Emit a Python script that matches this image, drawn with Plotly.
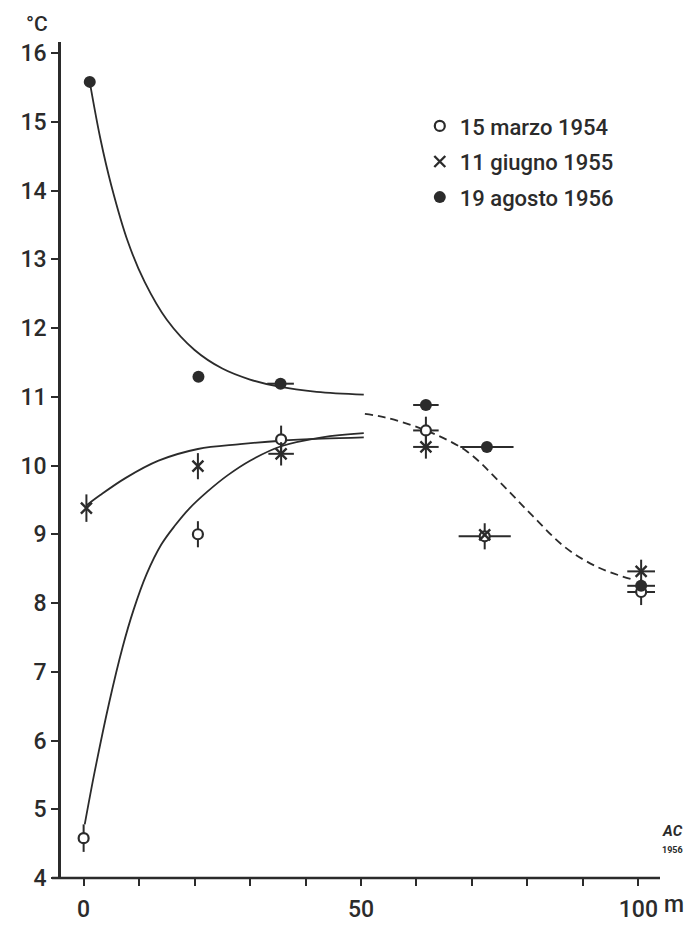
import plotly.graph_objects as go

INK = "#2b2b2b"
FONT = "Roboto"

# --- measured points ---
marzo_x = [0, 20.6, 35.6, 61.7, 72.3, 100.5]
marzo_y = [4.58, 9.0, 10.38, 10.51, 8.97, 8.16]
marzo_ey = [0.2, 0.19, 0.2, 0.2, 0.19, 0.19]
marzo_ex = [0, 0, 0, 2.3, 4.7, 2.5]

giugno_x = [0.5, 20.6, 35.6, 61.7, 72.3, 100.5]
giugno_y = [9.38, 9.99, 10.17, 10.27, 8.99, 8.46]
giugno_ey = [0.2, 0.19, 0.17, 0.17, 0.0, 0.17]
giugno_ex = [0, 0, 2.3, 2.3, 0, 2.5]

agosto_x = [1.1, 20.7, 35.5, 61.7, 72.7, 100.5]
agosto_y = [15.58, 11.29, 11.19, 10.88, 10.27, 8.25]
agosto_ex = [0, 0, 2.4, 2.3, 4.8, 2.5]

# --- hand-drawn curves ---
curve_agosto_x = [1.1, 3, 5, 8, 11, 15, 20, 25, 30, 35, 42, 50.5]
curve_agosto_y = [15.58, 14.76, 14.07, 13.25, 12.67, 12.12, 11.68, 11.41, 11.25, 11.15, 11.07, 11.03]

curve_marzo_x = [0.2, 2, 4.6, 7, 9, 11.35, 14, 16.5, 19, 22.3, 26, 30, 35.6, 43, 50.5]
curve_marzo_y = [4.78, 5.55, 6.55, 7.35, 7.9, 8.42, 8.85, 9.13, 9.37, 9.62, 9.86, 10.07, 10.28, 10.41, 10.47]

curve_giugno_x = [0.5, 3, 7.6, 13.5, 20.6, 28.2, 35.6, 43, 50.5]
curve_giugno_y = [9.42, 9.57, 9.82, 10.07, 10.24, 10.31, 10.36, 10.39, 10.41]

curve_dashed_x = [50.7, 54.3, 61.7, 69, 75, 80.9, 86.8, 92.7, 98.6]
curve_dashed_y = [10.75, 10.7, 10.51, 10.21, 9.76, 9.27, 8.81, 8.52, 8.35]

y_ticks = list(range(4, 17))
x_ticks = [0, 10, 20, 30, 40, 50, 60, 70, 80, 90, 100]
x_ticktext = ["0", "", "", "", "", "50", "", "", "", "", "100"]

legend_names = ["15 marzo 1954", "11 giugno 1955", "19 agosto 1956"]

fig = go.Figure()

for cx, cy, dash in [
    (curve_agosto_x, curve_agosto_y, "solid"),
    (curve_marzo_x, curve_marzo_y, "solid"),
    (curve_giugno_x, curve_giugno_y, "solid"),
    (curve_dashed_x, curve_dashed_y, "8px,5px"),
]:
    fig.add_trace(go.Scatter(
        x=cx, y=cy, mode="lines", showlegend=False, hoverinfo="skip",
        line=dict(color=INK, width=1.8, shape="spline", smoothing=1.0, dash=dash),
    ))

err_style = dict(type="data", symmetric=True, color=INK, thickness=2, width=0)

fig.add_trace(go.Scatter(
    x=marzo_x, y=marzo_y, mode="markers", name=legend_names[0],
    legendgroup="a", legendrank=1,
    marker=dict(symbol="circle", size=10, color="white", line=dict(color=INK, width=2.2)),
    error_y=dict(array=marzo_ey, **err_style),
    error_x=dict(array=marzo_ex, **err_style),
))
fig.add_trace(go.Scatter(
    x=giugno_x, y=giugno_y, mode="markers", name=legend_names[1],
    legendgroup="b", legendrank=2,
    marker=dict(symbol="x-thin", size=11, color=INK, line=dict(color=INK, width=2.4)),
    error_y=dict(array=giugno_ey, **err_style),
    error_x=dict(array=giugno_ex, **err_style),
))
fig.add_trace(go.Scatter(
    x=agosto_x, y=agosto_y, mode="markers", name=legend_names[2],
    legendgroup="c", legendrank=3,
    marker=dict(symbol="circle", size=12, color=INK),
    error_x=dict(array=agosto_ex, **err_style),
))

tick_font = dict(family=FONT, size=23, color=INK, weight=500)

fig.update_layout(
    width=677, height=927,
    margin=dict(l=43, r=25, t=34, b=32),
    paper_bgcolor="white", plot_bgcolor="white",
    font=dict(family=FONT, size=22, color=INK),
    showlegend=True,
    legend=dict(
        x=0.599, y=0.9245, xanchor="left", yanchor="top",
        traceorder="grouped", tracegroupgap=4,
        bgcolor="rgba(0,0,0,0)", font=dict(family=FONT, size=22, color=INK, weight=500),
        itemsizing="trace",
    ),
    xaxis=dict(
        range=[-4.08, 103.9], tickvals=x_ticks, ticktext=x_ticktext,
        ticks="outside", ticklen=7, tickwidth=2, tickcolor=INK,
        ticklabelstandoff=3,
        showline=False, showgrid=False, zeroline=False,
        tickfont=tick_font,
    ),
    yaxis=dict(
        range=[4, 16.16], tickvals=y_ticks,
        ticks="outside", ticklen=7, tickwidth=2, tickcolor=INK,
        showline=True, linewidth=2.5, linecolor=INK,
        showgrid=False, zeroline=False,
        tickfont=tick_font,
    ),
    shapes=[dict(type="line", xref="paper", yref="paper", x0=-0.015, x1=1.0, y0=0, y1=0,
                 line=dict(color=INK, width=2.5))],
    annotations=[
        dict(text="°C", xref="paper", yref="paper", x=-0.0394, y=1.022,
             xanchor="center", yanchor="middle",
             showarrow=False, font=dict(family=FONT, size=21, color=INK, weight=500)),
        dict(text="m", xref="paper", yref="paper", x=1.023, y=-0.032,
             xanchor="center", yanchor="middle",
             showarrow=False, font=dict(family=FONT, size=23, color=INK, weight=500)),
        dict(text="<b><i>AC</i></b>", xref="paper", yref="paper", x=1.0213, y=0.0557,
             xanchor="center", yanchor="middle",
             showarrow=False, font=dict(family=FONT, size=15, color=INK)),
        dict(text="<b>1956</b>", xref="paper", yref="paper", x=1.0213, y=0.0337,
             xanchor="center", yanchor="middle",
             showarrow=False, font=dict(family=FONT, size=9, color=INK)),
    ],
)

fig.write_html("out.html")
